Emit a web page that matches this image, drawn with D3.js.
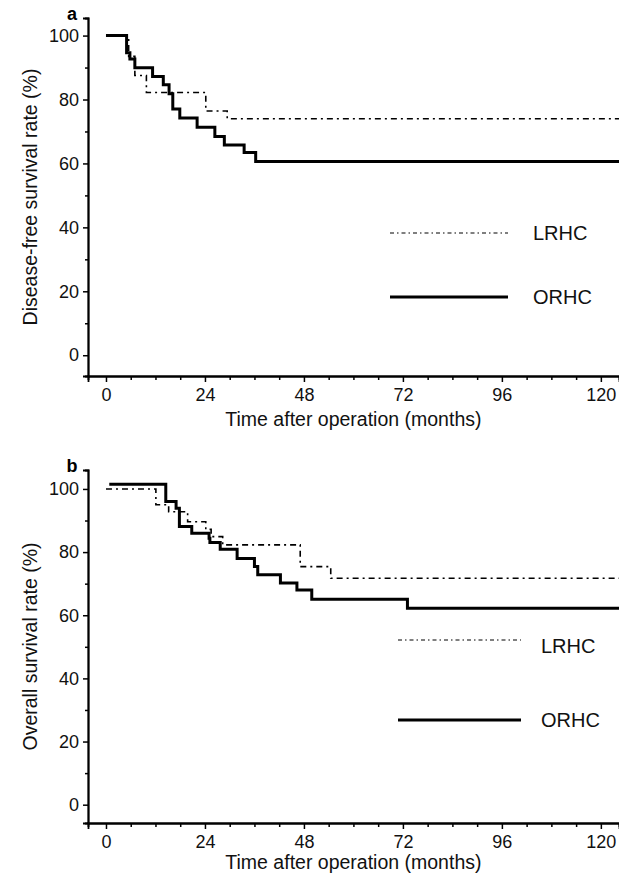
<!DOCTYPE html>
<html>
<head>
<meta charset="utf-8">
<script src="https://cdn.jsdelivr.net/npm/d3@7"></script>
<style>
  body{margin:0;background:#fff;}
  svg{display:block;font-family:"Liberation Sans",Arial,sans-serif;}
</style>
</head>
<body>
<div class="chart"></div>
<script>
// panel a - disease-free survival (month, %)
const dfsLrhcMonths = [0, 5.5, 7.0, 9.8, 24.2, 29.4, 124.4]
const dfsLrhcRate   = [100, 93.5, 87.5, 82.2, 76.4, 74.0, 74.0]
const dfsOrhcMonths = [0, 5.0, 5.8, 7.0, 11.3, 13.9, 15.3, 16.2, 17.9, 22.1, 26.4, 28.7, 33.5, 36.3, 124.4]
const dfsOrhcRate   = [100, 94.6, 92.7, 89.9, 87.2, 84.6, 81.8, 77.0, 74.2, 71.3, 68.4, 65.8, 63.4, 60.6, 60.6]

// panel b - overall survival (month, %)
const osLrhcMonths = [0, 12.1, 15.2, 19.8, 24.2, 25.5, 28.3, 47.1, 54.5, 124.4]
const osLrhcRate   = [100, 95.0, 92.8, 89.6, 87.2, 84.9, 82.3, 75.4, 71.7, 71.7]
const osOrhcMonths = [0.8, 14.5, 17.0, 17.8, 20.8, 25.0, 25.2, 27.7, 31.8, 36.0, 36.8, 42.3, 46.3, 49.9, 73.1, 124.4]
const osOrhcRate   = [101.5, 96.0, 93.9, 88.1, 86.0, 84.4, 83.0, 80.9, 78.0, 75.4, 72.8, 70.2, 68.0, 65.1, 62.2, 62.2]

const xTicks = [0, 24, 48, 72, 96, 120]
const yTicks = [0, 20, 40, 60, 80, 100]
const seriesNames = ["LRHC", "ORHC"]

const W = 619, H = 881
const svg = d3.select(".chart").append("svg")
  .attr("width", W).attr("height", H)

const zip = (ms, rs) => ms.map((m, i) => [m, rs[i]])

const panels = [
  {letter:"a", ylabel:"Disease-free survival rate (%)", top:18, bottom:376, titleY:426,
   ydom:[-6.5,105.5], lrhc:zip(dfsLrhcMonths, dfsLrhcRate), orhc:zip(dfsOrhcMonths, dfsOrhcRate),
   legY:[233, 297], legTextY:[233, 297], legX:[390, 508], legText:533},
  {letter:"b", ylabel:"Overall survival rate (%)", top:470, bottom:823, titleY:869,
   ydom:[-5.8,106], lrhc:zip(osLrhcMonths, osLrhcRate), orhc:zip(osOrhcMonths, osOrhcRate),
   legY:[640, 720], legTextY:[646, 720], legX:[398, 521], legText:541}
]

const left = 88
const xScale = d3.scaleLinear().domain([-4.36, 124.4]).range([left, W])

panels.forEach(p => {
  const yScale = d3.scaleLinear().domain(p.ydom).range([p.bottom, p.top])
  const g = svg.append("g")

  // axes
  const xAxis = d3.axisBottom(xScale).tickValues(xTicks).tickSize(6).tickPadding(6)
  const xMinor = d3.axisBottom(xScale).tickValues(d3.range(6, 121, 6).filter(d => d % 24)).tickSize(4).tickFormat("")
  const yAxis = d3.axisLeft(yScale).tickValues(yTicks).tickSize(5).tickPadding(4)
  const yMinor = d3.axisLeft(yScale).tickValues(d3.range(10, 101, 20)).tickSize(3).tickFormat("")

  ;[xAxis, xMinor].forEach(ax => {
    g.append("g").attr("transform", `translate(0,${p.bottom})`).call(ax)
  })
  ;[yAxis, yMinor].forEach(ax => {
    g.append("g").attr("transform", `translate(${left},0)`).call(ax)
  })
  g.selectAll(".domain").attr("stroke", "#000").attr("stroke-width", 1.8)
  g.selectAll(".tick line").attr("stroke", "#000").attr("stroke-width", 1.5)
  g.selectAll(".tick text").attr("fill", "#111").style("font-size", "18px")

  const line = d3.line().curve(d3.curveStepAfter)
    .x(d => xScale(d[0])).y(d => yScale(d[1]))

  g.append("path").datum(p.lrhc)
    .attr("d", line).attr("fill", "none")
    .attr("stroke", "#000").attr("stroke-width", 1.6)
    .attr("stroke-dasharray", "6,4,2,4")
  g.append("path").datum(p.orhc)
    .attr("d", line).attr("fill", "none")
    .attr("stroke", "#000").attr("stroke-width", 3)

  // legend
  seriesNames.forEach((name, i) => {
    g.append("line")
      .attr("x1", p.legX[0]).attr("x2", p.legX[1])
      .attr("y1", p.legY[i]).attr("y2", p.legY[i])
      .attr("stroke", "#000")
      .attr("stroke-width", i ? 3 : 1.2)
      .attr("stroke-dasharray", i ? null : "4,3,1.5,3")
    g.append("text")
      .attr("x", p.legText).attr("y", p.legTextY[i])
      .attr("dy", "0.35em")
      .style("font-size", "20px").attr("fill", "#111")
      .text(name)
  })

  // labels
  g.append("text")
    .attr("transform", `translate(37,${(p.top + p.bottom) / 2}) rotate(-90)`)
    .attr("text-anchor", "middle")
    .style("font-size", "19.5px").attr("fill", "#111")
    .text(p.ylabel)
  g.append("text")
    .attr("x", (xScale(0) + xScale(120)) / 2).attr("y", p.titleY)
    .attr("text-anchor", "middle")
    .style("font-size", "19.5px").attr("fill", "#111")
    .text("Time after operation (months)")
  g.append("text")
    .attr("x", 72).attr("y", p.top + 2)
    .attr("text-anchor", "middle")
    .style("font-size", "18px").style("font-weight", "bold")
    .text(p.letter)
})
</script>
</body>
</html>
